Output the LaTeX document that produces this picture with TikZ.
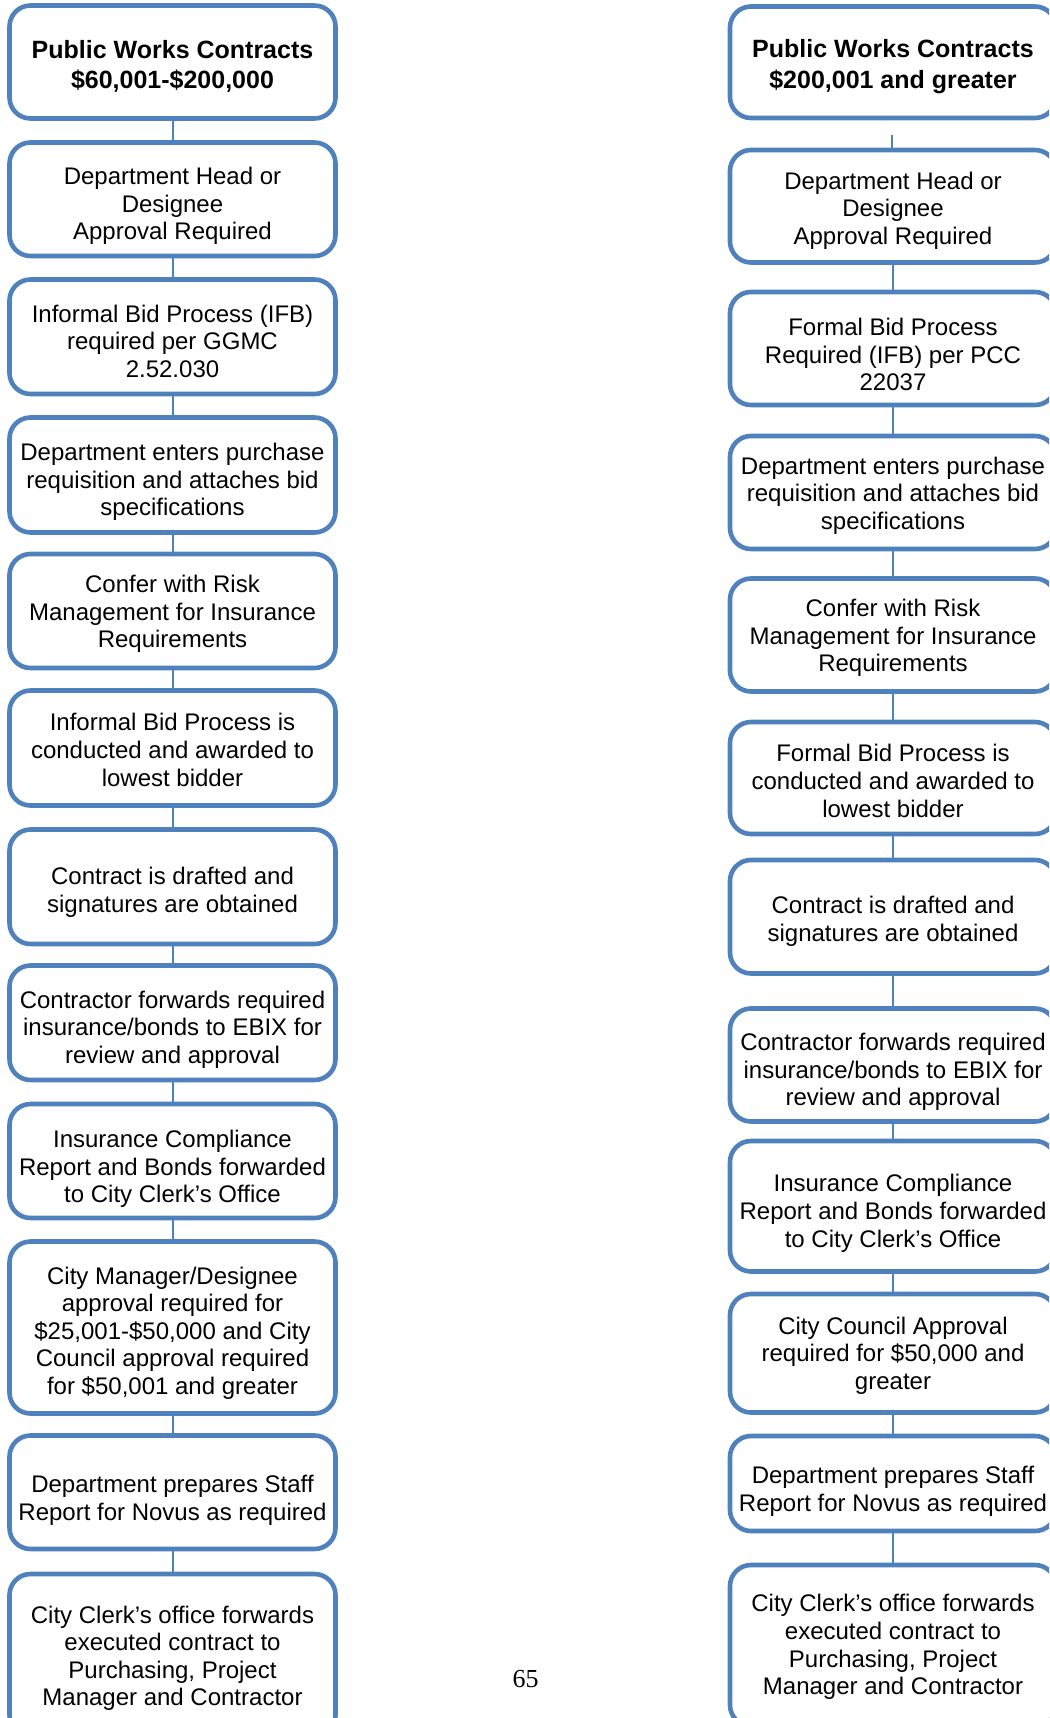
\documentclass[tikz,border=0pt]{standalone}
\usepackage{fontspec}
\setmainfont{Liberation Sans}
\newfontfamily\serifpn{Liberation Serif}
\definecolor{boxblue}{HTML}{4F81BD}
\tikzset{
  flowbox/.style={draw=boxblue, line width=4.6pt, rounded corners=21pt, fill=white,
    minimum width=326pt, inner sep=0pt},
  flowtext/.style={align=center, inner sep=0pt, font=\fontsize{24}{27.6}\selectfont},
  titletext/.style={align=center, inner sep=0pt, font=\fontsize{25}{30.5}\selectfont\bfseries},
  link/.style={draw=boxblue, line width=2pt}}
% #1 name, #2 text style, #3 centre, #4 height, #5 text drop, #6 text
\newcommand\flowstep[6]{%
  \node[flowbox, minimum height=#4] (#1) at (#3) {};
  \node[#2, yshift=-#5] (#1t) at (#1.center) {#6};}
\begin{document}
\begin{tikzpicture}[x=1pt,y=-1pt]
\useasboundingbox (0,0) rectangle (1049,1718);
\clip (0,0) rectangle (1049,1718);
% left column
\def\lx{172.5}
\flowstep{L1}{titletext}{\lx,62}{113pt}{4.4pt}{Public Works Contracts\\\$60,001-\$200,000}
\flowstep{L2}{flowtext}{\lx,199.25}{113.5pt}{6.6pt}{Department Head or\\Designee\\Approval Required}
\flowstep{L3}{flowtext}{\lx,336.75}{114.5pt}{4.4pt}{Informal Bid Process (IFB)\\required per GGMC\\2.52.030}
\flowstep{L4}{flowtext}{\lx,475}{115pt}{7pt}{Department enters purchase\\requisition and attaches bid\\specifications}
\flowstep{L5}{flowtext}{\lx,611}{114pt}{3pt}{Confer with Risk\\Management for Insurance\\Requirements}
\flowstep{L6}{flowtext}{\lx,748}{115pt}{2pt}{Informal Bid Process is\\conducted and awarded to\\lowest bidder}
\flowstep{L7}{flowtext}{\lx,886.75}{114.5pt}{5.5pt}{Contract is drafted and\\signatures are obtained}
\flowstep{L8}{flowtext}{\lx,1022.75}{114.5pt}{7pt}{Contractor forwards required\\insurance/bonds to EBIX for\\review and approval}
\flowstep{L9}{flowtext}{\lx,1161}{114pt}{8pt}{Insurance Compliance\\Report and Bonds forwarded\\to City Clerk’s Office}
\flowstep{L10}{flowtext}{\lx,1327.5}{172pt}{5.5pt}{City Manager/Designee\\approval required for\\\$25,001-\$50,000 and City\\Council approval required\\for \$50,001 and greater}
\flowstep{L11}{flowtext}{\lx,1492.25}{113.5pt}{8pt}{Department prepares Staff\\Report for Novus as required}
\flowstep{L12}{flowtext}{\lx,1655}{162pt}{3.3pt}{City Clerk’s office forwards\\executed contract to\\Purchasing, Project\\Manager and Contractor}
% right column
\def\rx{893}
\flowstep{R1}{titletext}{\rx,62.25}{111.5pt}{4.4pt}{Public Works Contracts\\\$200,001 and greater}
\flowstep{R2}{flowtext}{\rx,206.25}{112.5pt}{4.4pt}{Department Head or\\Designee\\Approval Required}
\flowstep{R3}{flowtext}{\rx,348.5}{113pt}{6pt}{Formal Bid Process\\Required (IFB) per PCC\\22037}
\flowstep{R4}{flowtext}{\rx,492.5}{113pt}{3pt}{Department enters purchase\\requisition and attaches bid\\specifications}
\flowstep{R5}{flowtext}{\rx,635}{113pt}{3pt}{Confer with Risk\\Management for Insurance\\Requirements}
\flowstep{R6}{flowtext}{\rx,778}{112pt}{3pt}{Formal Bid Process is\\conducted and awarded to\\lowest bidder}
\flowstep{R7}{flowtext}{\rx,916.75}{113.5pt}{4.4pt}{Contract is drafted and\\signatures are obtained}
\flowstep{R8}{flowtext}{\rx,1065}{113pt}{7pt}{Contractor forwards required\\insurance/bonds to EBIX for\\review and approval}
\flowstep{R9}{flowtext}{\rx,1206.25}{130.5pt}{7pt}{Insurance Compliance\\Report and Bonds forwarded\\to City Clerk’s Office}
\flowstep{R10}{flowtext}{\rx,1353.25}{118.5pt}{2.5pt}{City Council Approval\\required for \$50,000 and\\greater}
\flowstep{R11}{flowtext}{\rx,1483.5}{95pt}{8pt}{Department prepares Staff\\Report for Novus as required}
\flowstep{R12}{flowtext}{\rx,1645.5}{161pt}{1.5pt}{City Clerk’s office forwards\\executed contract to\\Purchasing, Project\\Manager and Contractor}
\coordinate (R1end) at (891.7,135);
% connectors
\foreach \a/\b in {L1/L2,L2/L3,L3/L4,L4/L5,L5/L6,L6/L7,L7/L8,L8/L9,L9/L10,L10/L11,L11/L12,
                   R2/R3,R3/R4,R4/R5,R5/R6,R6/R7,R7/R8,R8/R9,R9/R10,R10/R11,R11/R12}
  \draw[link] (\a.south) -- (\b.north);
\draw[link] (R1end) -- (R2.north -| R1end);
% page number
\node[font=\serifpn\fontsize{26}{30}\selectfont, inner sep=0pt] (pn) at (525.5,1679) {65};
\end{tikzpicture}
\end{document}
